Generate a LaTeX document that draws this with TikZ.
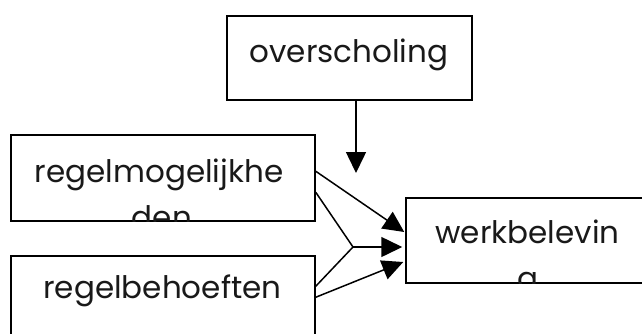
\documentclass[tikz,border=0pt]{standalone}
\usepackage{fontspec}
\setmainfont{Poppins}
\usetikzlibrary{arrows.meta,calc}
\tikzset{
  box/.style={draw=black, line width=1.5pt, fill=none, inner sep=0pt},
  txt/.style={font=\fontsize{31}{44}\selectfont, inner sep=0pt, align=center, text=black!90},
  conn/.style={line width=1.5pt},
  arr/.style={conn, -{Triangle[length=21pt,width=20pt]}}
}
\begin{document}
\begin{tikzpicture}[x=1pt,y=-1pt]
\clip (0,0) rectangle (642,333);
\fill[white] (0,0) rectangle (642,333);
% boxes
\node[box, minimum width=245pt, minimum height=84pt] (over) at (349.5,58) {};
\node[box, minimum width=304pt, minimum height=86pt] (rm) at (163,178) {};
\node[box, minimum width=304pt, minimum height=100pt] (rb) at (163,306) {};
\node[box, minimum width=244pt, minimum height=85pt] (wb) at (528,240.5) {};
% texts
\node[txt, anchor=base] (tover) at (349,62) {overscholing};
\begin{scope}
  \clip (rm.south west) rectangle (rm.north east);
  \node[txt, anchor=base] (trm) at (159,182) {regelmogelijkhe};
  \node[txt, anchor=base] (trm2) at (162,228) {den};
\end{scope}
\node[txt, anchor=base] (trb) at (162.5,298) {regelbehoeften};
\begin{scope}
  \clip (wb.south west) rectangle (wb.north east);
  \node[txt, anchor=base] (twb) at (527.5,243) {werkbelevin};
  \node[txt, anchor=base] (twb2) at (527.5,289) {g};
\end{scope}
% connector points
\coordinate (o1) at ($(over.south)+(6.5,0)$);
\coordinate (o2) at (356,173);
\coordinate (a1) at ($(rm.north east)+(0,37)$);
\coordinate (a2) at ($(rm.north east)+(0,58)$);
\coordinate (b1) at ($(rb.north west -| rb.east)+(0,31)$);
\coordinate (b2) at ($(rb.north west -| rb.east)+(0,42)$);
\coordinate (j) at (353,247);
\coordinate (t1) at ($(wb.west)+(-1,-8.5)$);
\coordinate (t2) at ($(wb.west)+(-3,6.5)$);
\coordinate (t3) at ($(wb.west)+(-2,21.5)$);
% connectors
\draw[arr] (o1) -- (o2);
\draw[arr] (a1) -- (t1);
\draw[conn] (a2) -- (j);
\draw[conn] (b1) -- (j);
\draw[arr] (j) -- (t2);
\draw[arr] (b2) -- (t3);
\end{tikzpicture}
\end{document}
